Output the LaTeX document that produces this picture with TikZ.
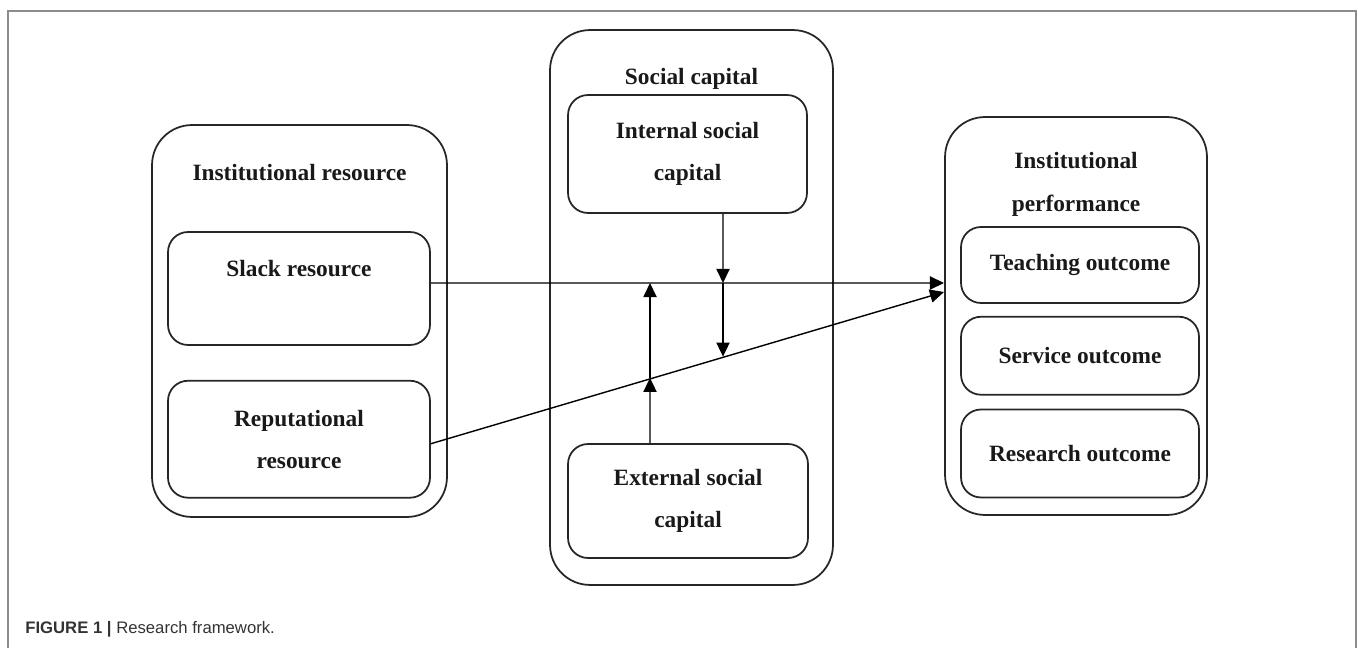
\documentclass[tikz,border=0pt]{standalone}
\usepackage{fontspec}
\setmainfont{Liberation Serif}
\setsansfont{Liberation Sans}
\usetikzlibrary{arrows.meta, positioning}

\begin{document}
\begin{tikzpicture}[
        x=0.02cm, y=-0.02cm,
        node distance=0.25cm,
        group/.style={rectangle, rounded corners=0.8cm, draw=black!85, line width=1pt},
        box/.style={rectangle, rounded corners=0.4cm, draw=black!85, line width=1pt, align=center, text=black!90, font=\fontsize{13.3}{24}\selectfont\bfseries},
        title/.style={anchor=base, align=center, text=black!90, font=\fontsize{13.3}{24}\selectfont\bfseries},
        arrow/.style={-{Triangle[length=8pt, width=7.5pt]}, line width=0.8pt}
    ]

    \useasboundingbox (0,0) rectangle (1358,648);

    % Frame
    \draw[black!45, line width=0.6pt] (8,648) -- (8,11) -- (1356,11) -- (1356,648);

    % Nodes
    \node[group, minimum width=5.9cm, minimum height=7.84cm, label={[title, yshift=-1.12cm]north:Institutional resource}] (res) at (299.5,321) {};
    \node[box, minimum width=5.24cm, minimum height=2.26cm, label={[title, yshift=-0.9cm]north:Slack resource}] (slack) at (299,288.5) {};
    \node[box, minimum width=5.24cm, minimum height=2.34cm, below=0.68cm of slack] (rep) {Reputational\\resource};

    \node[group, minimum width=5.66cm, minimum height=11.1cm, label={[title, yshift=-1.1cm]north:Social capital}] (soc) at (691.5,307.5) {};
    \node[box, minimum width=4.78cm, minimum height=2.36cm] (int) at (687.5,154) {Internal social\\capital};
    \node[box, minimum width=4.8cm, minimum height=2.28cm] (ext) at (688,501) {External social\\capital};

    \node[group, minimum width=5.24cm, minimum height=7.96cm, label={[title, yshift=-1.9cm]north:{Institutional\\performance}}] (perf) at (1076,316) {};
    \node[box, minimum width=4.76cm, minimum height=1.52cm] (teach) at (1080,265) {Teaching outcome};
    \node[box, minimum width=4.76cm, minimum height=1.56cm, below=0.24cm of teach] (serv) {Service outcome};
    \node[box, minimum width=4.76cm, minimum height=1.76cm, below=0.26cm of serv] (resch) {Research outcome};

    \node[anchor=base west, inner sep=0pt, text=black!80, font=\sffamily\fontsize{9.5}{11}\selectfont] (cap) at (25,633) {\textbf{FIGURE 1 |} Research framework.};

    % Arrow ends
    \coordinate (tipA) at (944,283);
    \coordinate (tipB) at (944,292);
    \coordinate (hA) at (723,283);
    \coordinate (dA) at (723,356.6);
    \coordinate (hB) at (650,283);
    \coordinate (dB) at (650,377.9);

    % Arrows
    \draw[arrow] ([yshift=0.11cm]slack.east) -- (tipA);
    \draw[arrow] ([yshift=-0.09cm]rep.east) -- (tipB);
    \draw[arrow] ([xshift=0.71cm]int.south) -- (hA);
    \draw[arrow] (hA) -- (dA);
    \draw[arrow] ([xshift=-0.76cm]ext.north) -- (dB);
    \draw[arrow] (dB) -- (hB);

\end{tikzpicture}
\end{document}
